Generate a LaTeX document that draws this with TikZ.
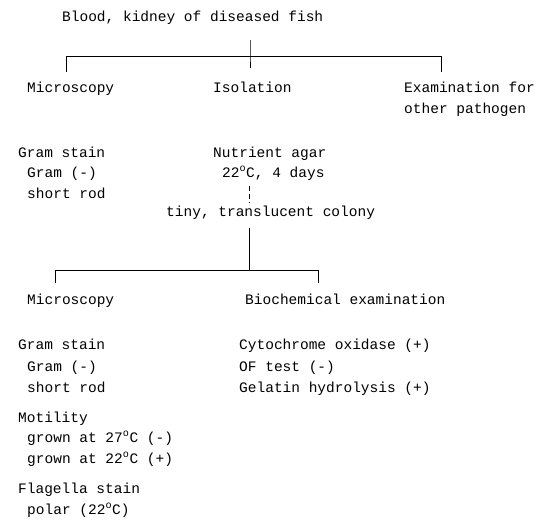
\documentclass[tikz,border=0pt]{standalone}
\usepackage{fontspec}
\setmonofont{Liberation Mono}
\usetikzlibrary{positioning}

\begin{document}
\begin{tikzpicture}[
  x=1pt, y=-1pt,
  font=\ttfamily\fontsize{14.5}{21}\selectfont,
  lbl/.style={anchor=base west, inner sep=0pt},
  link/.style={line width=0.7pt},
  weak/.style={line width=0.5pt, dash pattern=on 5pt off 3pt}
]
\useasboundingbox (0,0) rectangle (550,531);

% =========================================================
% FIRST SPLIT
% =========================================================

\node[lbl] (blood) at (62,21) {Blood, kidney of diseased fish};

\node[lbl] (microA) at (27,92) {Microscopy};
\node[lbl] (isol) at (213,92) {Isolation};
\node[lbl] (exam) at (404,92) {Examination for};
\node[lbl] (examB) at (404,113) {other pathogen};

\coordinate (topStem) at (250,40);
\coordinate (topMid) at (250,56);
\coordinate (topMidD) at (250,68);
\coordinate (topL) at (66,56);
\coordinate (topLD) at (66,72);
\coordinate (topR) at (441,56);
\coordinate (topRD) at (441,72);

\draw[line width=0.5pt] (topStem) -- (topMid) -- (topMidD);
\draw[line width=1pt] (topL) -- (topR);
\draw[link] (topL) -- (topLD);
\draw[link] (topR) -- (topRD);

% =========================================================
% ISOLATION
% =========================================================

\node[lbl] (gsA) at (18,157) {Gram stain};
\node[lbl] (gnA) at (27,177) {Gram (-)};
\node[lbl] (srA) at (27,198) {short rod};

\node[lbl] (agar) at (213,157) {Nutrient agar};
\node[lbl] (temp) at (222,177) {22\textsuperscript{o}C, 4 days};
\node[lbl] (colony) at (166,216) {tiny, translucent colony};

\coordinate (agarTop) at (249,186);
\coordinate (agarBot) at (249,203);
\draw[weak] (agarTop) -- (agarBot);

% =========================================================
% SECOND SPLIT
% =========================================================

\coordinate (midStem) at (249,228);
\coordinate (midBar) at (249,270);
\coordinate (midL) at (55,270);
\coordinate (midLD) at (55,283);
\coordinate (midR) at (318,270);
\coordinate (midRD) at (318,283);

\draw[link] (midStem) -- (midBar);
\draw[link] (midL) -- (midR);
\draw[link] (midL) -- (midLD);
\draw[link] (midR) -- (midRD);

\node[lbl] (microB) at (27,304) {Microscopy};
\node[lbl] (bio) at (245,304) {Biochemical examination};

% =========================================================
% RESULTS
% =========================================================

\foreach \nm/\xx/\yy/\txt in {
  gsB/18/349/{Gram stain},
  gnB/27/371/{Gram (-)},
  srB/27/392/{short rod},
  mot/18/422/{Motility},
  motA/27/442/{grown at 27\textsuperscript{o}C (-)},
  motB/27/463/{grown at 22\textsuperscript{o}C (+)},
  fla/18/493/{Flagella stain},
  flaA/27/514/{polar (22\textsuperscript{o}C)}
}{
  \node[lbl] (\nm) at (\xx,\yy) {\txt};
}

\foreach \nm/\yy/\txt in {
  oxi/349/{Cytochrome oxidase (+)},
  oft/371/{OF test (-)},
  gel/392/{Gelatin hydrolysis (+)}
}{
  \node[lbl] (\nm) at (239,\yy) {\txt};
}

\end{tikzpicture}
\end{document}
